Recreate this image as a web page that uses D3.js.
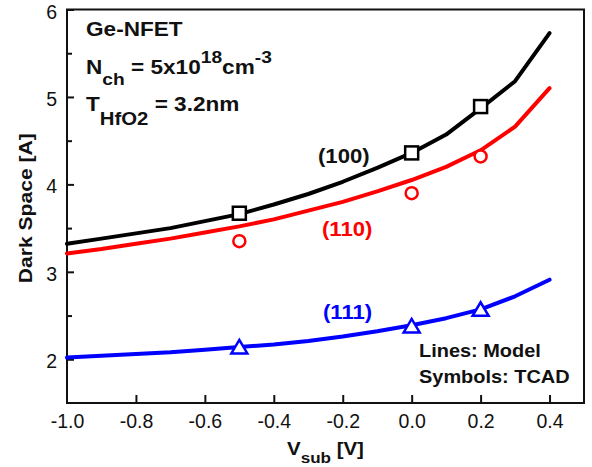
<!DOCTYPE html>
<html>
<head>
<meta charset="utf-8">
<script src="https://cdn.jsdelivr.net/npm/d3@7"></script>
<style>
  body { margin: 0; background: #fff; }
  text { font-family: Arial, "Liberation Sans", sans-serif; }
</style>
</head>
<body>
<script>
// model curves (lines), sampled every 0.1 V
var vsub = [-1.0, -0.9, -0.8, -0.7, -0.6, -0.5, -0.4, -0.3, -0.2, -0.1, 0.0, 0.1, 0.2, 0.3, 0.4];
var model100 = [3.32, 3.38, 3.44, 3.50, 3.58, 3.66, 3.77, 3.89, 4.03, 4.19, 4.36, 4.57, 4.87, 5.18, 5.73];
var model110 = [3.21, 3.26, 3.32, 3.38, 3.45, 3.52, 3.60, 3.70, 3.80, 3.92, 4.05, 4.20, 4.39, 4.66, 5.10];
var model111 = [2.02, 2.04, 2.06, 2.08, 2.11, 2.14, 2.17, 2.21, 2.26, 2.32, 2.39, 2.47, 2.57, 2.72, 2.91];

// TCAD symbols
var tcadV = [-0.5, 0.0, 0.2];
var tcad100 = [3.67, 4.36, 4.89];
var tcad110 = [3.35, 3.90, 4.32];
var tcad111 = [2.13, 2.37, 2.56];

var xTicks = [-1.0, -0.8, -0.6, -0.4, -0.2, 0.0, 0.2, 0.4];
var yTicks = [2, 3, 4, 5, 6];
var yMinor = [2.5, 3.5, 4.5, 5.5];

var svgWidth = 592;
var svgHeight = 467;
var margin = {left: 67, right: 8, top: 9.5, bottom: 64};
var w = svgWidth - margin.left - margin.right;
var h = svgHeight - margin.top - margin.bottom;

var svg = d3.select("body").append("svg").attr("width", svgWidth).attr("height", svgHeight);
svg.append("rect").attr("width", svgWidth).attr("height", svgHeight).attr("fill", "white");

var g = svg.append("g").attr("transform", "translate(" + margin.left + "," + margin.top + ")");

var x = d3.scaleLinear().domain([-1.0, 0.5]).range([0, w]);
var y = d3.scaleLinear().domain([1.5, 6]).range([h, 0]);

// axes, ticks pointing inward
var xAxis = g.append("g").attr("transform", "translate(0," + h + ")")
    .call(d3.axisBottom(x).tickValues(xTicks).tickFormat(function(d) { return d.toFixed(1); })
        .tickSizeInner(-8).tickSizeOuter(0).tickPadding(11));
var yAxis = g.append("g")
    .call(d3.axisLeft(y).tickValues(yTicks).tickFormat(d3.format("d")).tickSizeInner(-7).tickSizeOuter(0).tickPadding(10));
g.append("g")
    .call(d3.axisLeft(y).tickValues(yMinor).tickFormat("").tickSizeInner(-5).tickSizeOuter(0));

g.selectAll(".domain").remove();
g.selectAll(".tick line").attr("stroke", "#111").attr("stroke-width", 2);
g.selectAll(".tick text").attr("font-size", 19.5).attr("fill", "#111")
    .attr("font-family", "Arial, 'Liberation Sans', sans-serif");
yAxis.selectAll(".tick text").attr("dy", "0.44em");
xAxis.selectAll(".tick").filter(function(d) { return d === -1.0; }).select("line").remove();

// frame
g.append("rect").attr("width", w).attr("height", h)
    .attr("fill", "none").attr("stroke", "#111").attr("stroke-width", 2);

var line = d3.line()
    .x(function(d) { return x(d[0]); })
    .y(function(d) { return y(d[1]); });

var series = [
    {model: model100, tcad: tcad100, color: "#000000", symbol: "square"},
    {model: model110, tcad: tcad110, color: "#ff0000", symbol: "circle"},
    {model: model111, tcad: tcad111, color: "#0000ff", symbol: "triangle"}
];

series.forEach(function(s) {
    g.append("path")
        .datum(d3.zip(vsub, s.model))
        .attr("d", line)
        .attr("fill", "none")
        .attr("stroke", s.color)
        .attr("stroke-width", 4)
        .attr("stroke-linejoin", "round")
        .attr("stroke-linecap", "round");
});

series.forEach(function(s) {
    var pts = d3.zip(tcadV, s.tcad);
    var sel = g.selectAll(null).data(pts);
    if (s.symbol === "square") {
        sel.enter().append("rect")
            .attr("x", function(d) { return x(d[0]) - 6.5; })
            .attr("y", function(d) { return y(d[1]) - 6.5; })
            .attr("width", 13).attr("height", 13)
            .attr("fill", "white").attr("stroke", s.color).attr("stroke-width", 2.5);
    } else if (s.symbol === "circle") {
        sel.enter().append("circle")
            .attr("cx", function(d) { return x(d[0]); })
            .attr("cy", function(d) { return y(d[1]); })
            .attr("r", 6)
            .attr("fill", "white").attr("stroke", s.color).attr("stroke-width", 2.5);
    } else {
        sel.enter().append("path")
            .attr("d", function(d) {
                var cx = x(d[0]), cy = y(d[1]);
                return "M" + (cx - 8) + "," + (cy + 5.5) + "L" + (cx + 8) + "," + (cy + 5.5) + "L" + cx + "," + (cy - 8) + "Z";
            })
            .attr("fill", "white").attr("stroke", s.color).attr("stroke-width", 2.5)
            .attr("stroke-linejoin", "miter");
    }
});

// text helper: the reference font is a little wider than Arial, so stretch it
function stext(px, py, size, color, sx) {
    return svg.append("text")
        .attr("transform", "translate(" + px + "," + py + ") scale(" + sx + ",1)")
        .attr("font-size", size).attr("font-weight", "bold").attr("fill", color);
}

stext(86, 36, 20, "#111", 1.13).text("Ge-NFET");

var t1 = stext(86, 73.5, 20, "#111", 1.13);
t1.append("tspan").text("N");
t1.append("tspan").attr("dy", 11).attr("font-size", 17).text("ch");
t1.append("tspan").attr("dy", -11).text(" = 5x10");
t1.append("tspan").attr("dy", -10.5).attr("font-size", 17).text("18");
t1.append("tspan").attr("dy", 10.5).text("cm");
t1.append("tspan").attr("dy", -10.5).attr("font-size", 17).text("-3");

var t2 = stext(86, 110.5, 20, "#111", 1.13);
t2.append("tspan").text("T");
t2.append("tspan").attr("dy", 14).attr("font-size", 18).text("HfO2");
t2.append("tspan").attr("dy", -14).text(" = 3.2nm");

stext(318, 163, 20.5, "#111", 1.08).text("(100)");
stext(322, 236, 20.5, "#ff0000", 1.08).text("(110)");
stext(323, 319, 20.5, "#0000ff", 1.08).text("(111)");

stext(419, 357, 17.5, "#111", 1.14).text("Lines: Model");
stext(419, 383, 17.5, "#111", 1.14).text("Symbols: TCAD");

// axis titles
svg.append("text")
    .attr("transform", "translate(32," + (margin.top + h / 2 + 2) + ") rotate(-90) scale(1.11,1)")
    .attr("text-anchor", "middle").attr("font-size", 19).attr("font-weight", "bold").attr("fill", "#111")
    .text("Dark Space [A]");

var xt = stext(287, 455, 18.6, "#111", 1.1);
xt.append("tspan").text("V");
xt.append("tspan").attr("dy", 8).attr("font-size", 15.5).text("sub");
xt.append("tspan").attr("dy", -8).text(" [V]");
</script>
</body>
</html>
